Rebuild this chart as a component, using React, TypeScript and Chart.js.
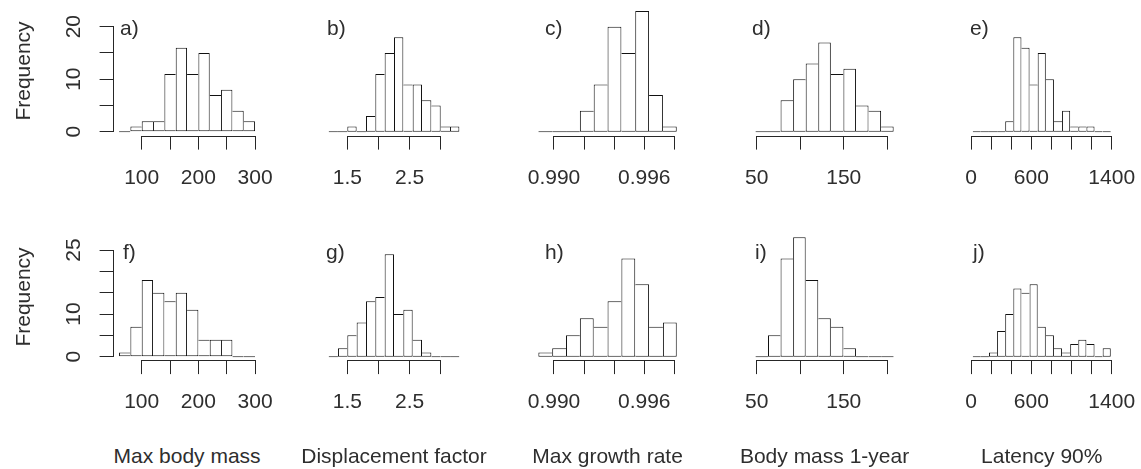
import React, { useEffect, useRef } from 'react';
import { Chart, registerables } from 'chart.js';

Chart.register(...registerables);

// ---------------- data ----------------
const COLUMN_TITLES = ['Max body mass', 'Displacement factor', 'Max growth rate', 'Body mass 1-year', 'Latency 90%'];
const PANEL_LETTERS = [
  ['a)', 'b)', 'c)', 'd)', 'e)'],
  ['f)', 'g)', 'h)', 'i)', 'j)'],
];
const Y_TITLE = 'Frequency';

// histogram bins (shared by both rows of a column)
const BIN_START = [60, 1.2, 0.98896, 48.6, 17];
const BIN_WIDTH = [20, 0.15, 0.00092, 14.43, 80.8];

// counts, top row
const COUNTS_A = [0, 1, 2, 2, 11, 16, 11, 15, 7, 8, 4, 2];
const COUNTS_B = [0, 0, 1, 0, 3, 11, 15, 18, 9, 9, 6, 5, 1, 1];
const COUNTS_C = [0, 0, 0, 4, 9, 20, 15, 23, 7, 1];
const COUNTS_D = [0, 0, 6, 10, 13, 17, 11, 12, 5, 4, 1];
const COUNTS_E = [0, 0, 0, 0, 2, 18, 16, 9, 15, 10, 2, 4, 1, 1, 1, 0, 0];
// counts, bottom row
const COUNTS_F = [1, 7, 18, 15, 13, 15, 11, 4, 4, 4, 0, 0];
const COUNTS_G = [0, 2, 5, 8, 13, 14, 24, 10, 11, 4, 1, 0, 0, 0];
const COUNTS_H = [1, 2, 5, 9, 7, 13, 23, 17, 7, 8];
const COUNTS_I = [0, 5, 23, 28, 18, 9, 7, 2, 0, 0, 0];
const COUNTS_J = [0, 0, 1, 6, 10, 16, 15, 17, 7, 5, 2, 1, 3, 4, 3, 0, 2];

const COUNTS = [
  [COUNTS_A, COUNTS_B, COUNTS_C, COUNTS_D, COUNTS_E],
  [COUNTS_F, COUNTS_G, COUNTS_H, COUNTS_I, COUNTS_J],
];

const X_TICKS = [
  [100, 150, 200, 250, 300],
  [1.5, 2.0, 2.5, 3.0],
  [0.99, 0.992, 0.994, 0.996, 0.998],
  [50, 100, 150, 200],
  [0, 200, 400, 600, 800, 1000, 1200, 1400],
];
const X_TICK_LABELS = [
  ['100', '', '200', '', '300'],
  ['1.5', '', '2.5', ''],
  ['0.990', '', '', '0.996', ''],
  ['50', '', '150', ''],
  ['0', '', '', '600', '', '', '', '1400'],
];
const Y_TICKS = [
  [0, 5, 10, 15, 20],
  [0, 5, 10, 15, 20, 25],
];
const Y_TICK_LABELS = [
  ['0', '', '10', '', '20'],
  ['0', '', '10', '', '', '25'],
];

// ---------------- layout ----------------
const W = 1141;
const H = 469;
const FONT = '"Liberation Sans", Arial, Helvetica, sans-serif';
const FONT_SIZE = 21;
const LINE = '#262626';
const BAR_LINE = '#111111';
const TEXT = '#2e2e2e';

const COL_LEFT = [113.6, 323.4, 532.8, 749.9, 967.2];
const COL_RIGHT = [260.5, 464.6, 682.3, 899.2, 1116.3];
const ROW_TOP = [5.7, 233];
const ROW_BOTTOM = [135.6, 360.1];
const Y_MIN = [-0.75, -0.8];
const Y_MAX = [24, 29];
const LETTER_POS = [
  [[120, 27], [327, 27], [545, 27], [752, 27], [970, 27]],
  [[123, 251], [326, 251], [545, 251], [755, 251], [973, 251]],
];
const Y_TITLE_X = 22;
const X_TITLE_Y = 455;

const TICK_LEN = 14;
const X_AXIS_H = 70;
const Y_AXIS_W = 110;

const rAxisPlugin = {
  id: 'rAxis',
  afterDraw(chart: any) {
    const ctx = chart.ctx;
    ctx.save();
    ctx.strokeStyle = LINE;
    ctx.lineWidth = 1;
    const xs = chart.scales.x;
    const xt = xs.ticks;
    if (xt && xt.length) {
      const y = Math.round(xs.top) + 0.5;
      ctx.beginPath();
      ctx.moveTo(xs.getPixelForValue(xt[0].value), y);
      ctx.lineTo(xs.getPixelForValue(xt[xt.length - 1].value), y);
      ctx.stroke();
    }
    const ys = chart.scales.y;
    if (ys.options.display) {
      const yt = ys.ticks;
      const x = Math.round(ys.right) - 0.5;
      ctx.beginPath();
      ctx.moveTo(x, ys.getPixelForValue(yt[0].value));
      ctx.lineTo(x, ys.getPixelForValue(yt[yt.length - 1].value));
      ctx.stroke();
    }
    ctx.restore();
  },
};

function Panel({ row, col }: { row: number; col: number }) {
  const ref = useRef<HTMLCanvasElement | null>(null);
  const L = COL_LEFT[col];
  const R = COL_RIGHT[col];
  const T = ROW_TOP[row];
  const B = ROW_BOTTOM[row];
  const yW = col === 0 ? Y_AXIS_W : 0;
  const cLeft = Math.floor(L - yW - 40);
  const padLeft = L - yW - cLeft;
  const cTop = Math.floor(T - 8);
  const padTop = T - cTop;
  const cW = Math.ceil(R + 45) - cLeft;
  const padRight = cLeft + cW - R;
  const cH = Math.ceil(B - cTop + X_AXIS_H + 2);
  const padBottom = cH - X_AXIS_H - (B - cTop);

  useEffect(() => {
    const canvas = ref.current;
    if (!canvas) return;
    const counts = COUNTS[row][col];
    const start = BIN_START[col];
    const width = BIN_WIDTH[col];
    const range = counts.length * width;
    const xMin = start - 0.04 * range;
    const xMax = start + range + 0.04 * range;
    const data = counts.map((c, i) => ({ x: start + (i + 0.5) * width, y: c }));

    const chart = new Chart(canvas, {
      type: 'bar',
      data: {
        datasets: [
          {
            data,
            backgroundColor: '#ffffff',
            borderColor: BAR_LINE,
            borderSkipped: false,
            inflateAmount: 0,
            minBarLength: 1,
            barPercentage: 1,
            categoryPercentage: 1,
            borderWidth: (ctx: any) => {
              const i = ctx.dataIndex;
              if (i === undefined) return 1;
              const h = counts[i];
              const prev = i > 0 ? counts[i - 1] : -1;
              const next = i < counts.length - 1 ? counts[i + 1] : -1;
              return { top: 1, bottom: 1, left: h >= prev ? 1 : 0, right: h > next ? 1 : 0 };
            },
          } as any,
        ],
      },
      options: {
        responsive: false,
        maintainAspectRatio: false,
        animation: false,
        devicePixelRatio: 1,
        events: [],
        layout: { padding: { left: padLeft, right: padRight, top: padTop, bottom: padBottom } },
        plugins: { legend: { display: false }, tooltip: { enabled: false }, title: { display: false } },
        scales: {
          x: {
            type: 'linear',
            min: xMin,
            max: xMax,
            offset: false,
            border: { display: false },
            grid: {
              display: true,
              drawOnChartArea: false,
              drawTicks: true,
              tickLength: TICK_LEN,
              color: LINE,
              lineWidth: 1,
              offset: false,
            },
            ticks: {
              autoSkip: false,
              minRotation: 0,
              maxRotation: 0,
              padding: 16,
              color: TEXT,
              font: { family: FONT, size: FONT_SIZE },
              callback: (_v: any, i: number) => X_TICK_LABELS[col][i],
            },
            afterBuildTicks: (s: any) => {
              s.ticks = X_TICKS[col].map((v) => ({ value: v }));
            },
            afterFit: (s: any) => {
              s.height = X_AXIS_H;
              s.paddingLeft = 0;
              s.paddingRight = 0;
            },
          } as any,
          y: {
            type: 'linear',
            display: col === 0,
            min: Y_MIN[row],
            max: Y_MAX[row],
            border: { display: false },
            grid: {
              display: true,
              drawOnChartArea: false,
              drawTicks: true,
              tickLength: TICK_LEN,
              color: LINE,
              lineWidth: 1,
            },
            ticks: {
              autoSkip: false,
              minRotation: 90,
              maxRotation: 90,
              crossAlign: 'center',
              padding: 14,
              color: TEXT,
              font: { family: FONT, size: FONT_SIZE },
              callback: (_v: any, i: number) => Y_TICK_LABELS[row][i],
            },
            afterBuildTicks: (s: any) => {
              s.ticks = Y_TICKS[row].map((v) => ({ value: v }));
            },
            afterFit: (s: any) => {
              s.width = yW;
              s.paddingTop = 0;
              s.paddingBottom = 0;
            },
          } as any,
        },
      },
      plugins: [rAxisPlugin],
    });
    return () => chart.destroy();
  }, [row, col]);

  return (
    <canvas
      ref={ref}
      width={cW}
      height={cH}
      style={{ position: 'absolute', left: cLeft, top: cTop, width: cW, height: cH }}
    />
  );
}

const textBase: React.CSSProperties = {
  position: 'absolute',
  fontFamily: FONT,
  fontSize: FONT_SIZE,
  lineHeight: 1,
  color: TEXT,
  whiteSpace: 'nowrap',
};

export default function App() {
  const panels: JSX.Element[] = [];
  for (let r = 0; r < 2; r++) {
    for (let c = 0; c < 5; c++) {
      panels.push(<Panel key={`p${r}${c}`} row={r} col={c} />);
    }
  }
  const letters: JSX.Element[] = [];
  for (let r = 0; r < 2; r++) {
    for (let c = 0; c < 5; c++) {
      const [x, y] = LETTER_POS[r][c];
      letters.push(
        <div key={`l${r}${c}`} style={{ ...textBase, left: x, top: y, transform: 'translateY(-50%)' }}>
          {PANEL_LETTERS[r][c]}
        </div>
      );
    }
  }
  return (
    <div
      style={{
        position: 'fixed',
        left: 0,
        top: 0,
        width: W,
        height: H,
        overflow: 'hidden',
        background: '#ffffff',
      }}
    >
      {panels}
      {letters}
      {[0, 1].map((r) => (
        <div
          key={`yt${r}`}
          style={{
            ...textBase,
            left: Y_TITLE_X,
            top: (ROW_TOP[r] + ROW_BOTTOM[r]) / 2,
            transform: 'translate(-50%, -50%) rotate(-90deg)',
          }}
        >
          {Y_TITLE}
        </div>
      ))}
      {COLUMN_TITLES.map((t, c) => (
        <div
          key={`xt${c}`}
          style={{
            ...textBase,
            left: (COL_LEFT[c] + COL_RIGHT[c]) / 2,
            top: X_TITLE_Y,
            transform: 'translate(-50%, -50%)',
          }}
        >
          {t}
        </div>
      ))}
    </div>
  );
}
